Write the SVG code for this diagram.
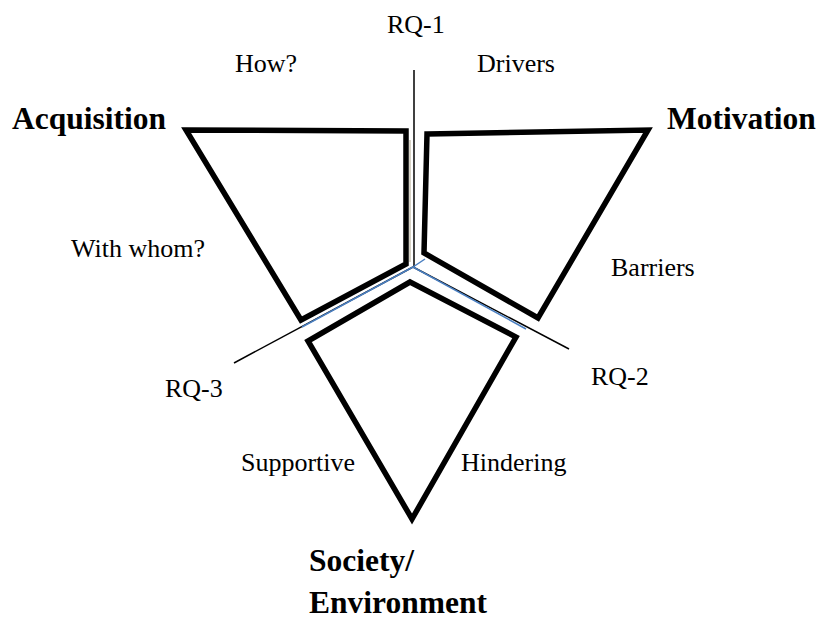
<svg xmlns="http://www.w3.org/2000/svg" width="819" height="624" viewBox="0 0 819 624">
<style>
.shape{fill:none;stroke:#000;stroke-width:5.5;stroke-linejoin:miter}
.axis{fill:none;stroke:#000;stroke-width:1.5}
.blue{fill:none;stroke:#4a7fc1;stroke-width:1.5}
</style>
<rect width="819" height="624" fill="#fff"/>
<g id="connectors">
<line class="axis" x1="414" y1="70" x2="414" y2="267"/>
<line x1="410" y1="140" x2="410" y2="262" stroke="#c8c2b0" stroke-width="1.5"/>
<line class="axis" x1="413" y1="267" x2="234" y2="363"/>
<line class="axis" x1="413" y1="267" x2="569" y2="349"/>
<line class="blue" x1="413" y1="267" x2="302" y2="327"/>
<line class="blue" x1="413" y1="267" x2="526" y2="329"/>
<line class="blue" x1="413" y1="267" x2="425" y2="259"/>
</g>
<g id="acquisition">
<polygon class="shape" points="186,130 406,131 406,264 301,320"/>
<text x="12" y="129" font-family="Liberation Serif" font-size="31.5" font-weight="bold">Acquisition</text>
<text x="235" y="72" font-family="Liberation Serif" font-size="26">How?</text>
<text x="71" y="257" font-family="Liberation Serif" font-size="26">With whom?</text>
</g>
<g id="motivation">
<polygon class="shape" points="427,134 648,130 538,318 424,253"/>
<text x="667" y="129" font-family="Liberation Serif" font-size="31.5" font-weight="bold">Motivation</text>
<text x="477" y="72" font-family="Liberation Serif" font-size="26">Drivers</text>
<text x="611" y="276" font-family="Liberation Serif" font-size="26">Barriers</text>
</g>
<g id="society">
<polygon class="shape" points="410,282 516,337 412,519 308,341"/>
<text x="309" y="571" font-family="Liberation Serif" font-size="31.5" font-weight="bold">Society/</text>
<text x="309" y="613" font-family="Liberation Serif" font-size="31.5" font-weight="bold">Environment</text>
<text x="241" y="471" font-family="Liberation Serif" font-size="26">Supportive</text>
<text x="461" y="471" font-family="Liberation Serif" font-size="26">Hindering</text>
</g>
<g id="labels">
<text x="387" y="33" font-family="Liberation Serif" font-size="26">RQ-1</text>
<text x="591" y="385" font-family="Liberation Serif" font-size="26">RQ-2</text>
<text x="165" y="397" font-family="Liberation Serif" font-size="26">RQ-3</text>
</g>
</svg>
